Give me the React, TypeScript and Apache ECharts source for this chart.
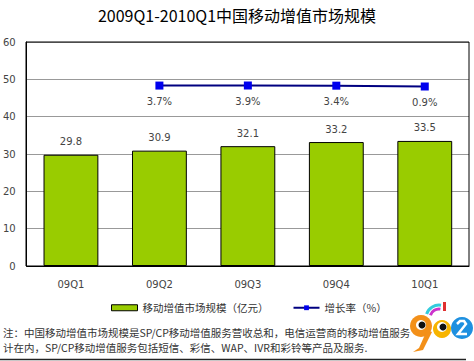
import React, { useEffect, useRef } from "react";
import * as echarts from "echarts";

const categories = ["09Q1", "09Q2", "09Q3", "09Q4", "10Q1"];
const marketSize = [29.8, 30.9, 32.1, 33.2, 33.5];
const growthRate: (number | null)[] = [null, 3.7, 3.9, 3.4, 0.9];
const yTicks = [0, 10, 20, 30, 40, 50, 60];

const TITLE = "2009Q1-2010Q1中国移动增值市场规模";
const SERIES_BAR = "移动增值市场规模（亿元）";
const SERIES_LINE = "增长率（%）";
const NOTE1 = "注：中国移动增值市场规模是SP/CP移动增值服务营收总和，电信运营商的移动增值服务";
const NOTE2 = "计在内，SP/CP移动增值服务包括短信、彩信、WAP、IVR和彩铃等产品及服务.";

const FONT = "'DejaVu Sans', 'Noto Sans CJK SC', sans-serif";
const CJK = "'Noto Sans CJK SC', sans-serif";

export default function App() {
  const ref = useRef<HTMLDivElement>(null);
  useEffect(() => {
    if (!ref.current) return;
    const chart = echarts.init(ref.current, null, { renderer: "svg" });
    chart.setOption({
      animation: false,
      backgroundColor: "#ffffff",
      title: {
        text: TITLE,
        left: "center",
        top: 2,
        textStyle: { fontFamily: CJK, fontSize: 16, fontWeight: "normal", color: "#000" },
      },
      grid: { left: 26, right: 5, top: 42, bottom: 95, containLabel: false },
      legend: {
        bottom: 43,
        left: 106,
        itemGap: 24,
        itemWidth: 26,
        itemHeight: 6,
        textStyle: { fontFamily: CJK, fontSize: 10.5, color: "#333" },
        data: [
          { name: SERIES_BAR, icon: "rect", itemStyle: { color: "#99cc00", borderColor: "#000", borderWidth: 1 } },
          { name: SERIES_LINE },
        ],
      },
      xAxis: {
        type: "category",
        data: categories,
        axisLine: { lineStyle: { color: "#000", width: 1 } },
        axisTick: { show: false },
        axisLabel: { fontFamily: FONT, fontSize: 10, color: "#444", margin: 13 },
      },
      yAxis: [
        {
          type: "value",
          min: yTicks[0],
          max: yTicks[yTicks.length - 1],
          interval: 10,
          axisLine: { show: true, lineStyle: { color: "#000" } },
          axisTick: { show: false },
          axisLabel: { fontFamily: FONT, fontSize: 10, color: "#444", margin: 11 },
          splitLine: { lineStyle: { color: "#999", width: 1 } },
        },
        {
          type: "value",
          min: -540,
          max: 135,
          show: false,
          splitLine: { show: false },
        },
      ],
      graphic: [
        {
          type: "rect",
          shape: { x: 26, y: 42, width: 443, height: 224 },
          style: { fill: "none", stroke: "#000", lineWidth: 1 },
          z: 10,
          silent: true,
        },
        {
          type: "text",
          left: 3,
          top: 327,
          style: { text: NOTE1, fontFamily: CJK, fontSize: 10.5, fill: "#333" },
        },
        {
          type: "text",
          left: 3,
          top: 342,
          style: { text: NOTE2, fontFamily: CJK, fontSize: 10.5, fill: "#333" },
        },
        {
          type: "line",
          shape: { x1: 0, y1: 359.5, x2: 466, y2: 359.5 },
          style: { stroke: "#222", lineWidth: 1.5 },
        },
        {
          type: "group",
          left: 410,
          top: 302,
          children: [
            { type: "arc", shape: { cx: 32, cy: 16, r: 13, startAngle: Math.PI * 1.1, endAngle: Math.PI * 1.55 }, style: { stroke: "#33ccdd", lineWidth: 3, fill: "none" } },
            { type: "arc", shape: { cx: 32, cy: 16, r: 9, startAngle: Math.PI * 1.1, endAngle: Math.PI * 1.55 }, style: { stroke: "#cc33cc", lineWidth: 3, fill: "none" } },
            { type: "rect", shape: { x: 36, y: 0, width: 3, height: 9 }, style: { fill: "#e03030" } },
            { type: "circle", shape: { cx: 14, cy: 24, r: 11 }, style: { fill: "#f39019" } },
            { type: "polygon", shape: { points: [[20, 28], [25, 30], [16, 48], [6, 50], [12, 46]] }, style: { fill: "#f39019" } },
            { type: "circle", shape: { cx: 35, cy: 27, r: 9 }, style: { fill: "#f7b400" } },
            { type: "circle", shape: { cx: 14, cy: 23, r: 5 }, style: { fill: "#fff" } },
            { type: "circle", shape: { cx: 15, cy: 23, r: 3.5 }, style: { fill: "#111" } },
            { type: "circle", shape: { cx: 35, cy: 25, r: 5 }, style: { fill: "#fff" } },
            { type: "circle", shape: { cx: 36, cy: 25, r: 3.5 }, style: { fill: "#111" } },
            { type: "circle", shape: { cx: 55, cy: 26, r: 11 }, style: { fill: "#1e90e0" } },
            { type: "polyline", shape: { points: [[50, 22], [53, 19], [57, 19], [59, 22], [51, 32], [60, 32]] }, style: { stroke: "#fff", lineWidth: 2.5, fill: "none" } },
          ],
        },
      ],
      series: [
        {
          name: SERIES_BAR,
          type: "bar",
          data: marketSize,
          barWidth: "62%",
          itemStyle: { color: "#99cc00", borderColor: "#000", borderWidth: 1 },
          label: {
            show: true,
            position: "top",
            distance: 8,
            fontFamily: FONT,
            fontSize: 10,
            color: "#444",
          },
        },
        {
          name: SERIES_LINE,
          type: "line",
          yAxisIndex: 1,
          data: growthRate,
          symbol: "rect",
          symbolSize: 8,
          lineStyle: { color: "#000080", width: 2 },
          itemStyle: { color: "#0000ee" },
          label: {
            show: true,
            position: "bottom",
            distance: 7,
            fontFamily: FONT,
            fontSize: 10,
            color: "#444",
            formatter: (p: any) => p.value + "%",
          },
        },
      ],
    });
    return () => chart.dispose();
  }, []);
  return <div ref={ref} style={{ width: 474, height: 361, position: "absolute", left: 0, top: 0 }} />;
}
